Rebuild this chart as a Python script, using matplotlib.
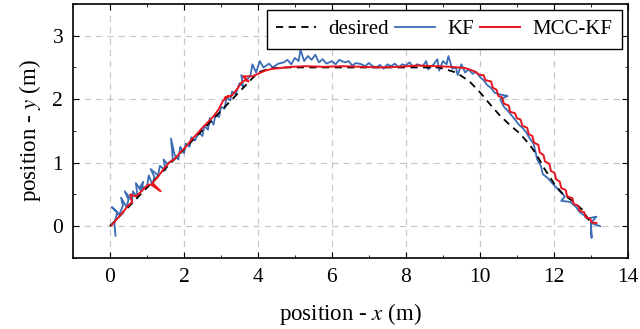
import matplotlib
matplotlib.use("Agg")
import matplotlib.pyplot as plt
from matplotlib.ticker import MultipleLocator

plt.rcParams['font.family'] = ['Liberation Serif', 'DejaVu Serif']
plt.rcParams['mathtext.fontset'] = 'stix'

# desired path
des_x = [0.0, 4.0, 4.3, 4.7, 5.2, 8.9, 9.36, 9.72, 10.0, 10.26, 10.53, 10.8, 11.08,
         11.35, 11.53, 11.75, 12.02, 12.25, 12.5, 12.75, 13.0]
des_y = [0.0, 2.42, 2.48, 2.5, 2.5, 2.5, 2.42, 2.28, 2.11, 1.93, 1.75, 1.6, 1.46,
         1.28, 1.13, 0.9, 0.66, 0.5, 0.4, 0.27, 0.05]

# KF estimate
kf_x = [0.15, 0.12, 0.2, 0.05, 0.25, 0.35, 0.3, 0.45, 0.5, 0.4, 0.6, 0.62, 0.75, 0.7,
        0.85, 0.9, 0.8, 1.0, 1.05, 1.15, 1.2, 1.1, 1.3, 1.35, 1.5, 1.45, 1.55, 1.7,
        1.65, 1.75, 1.85, 1.9, 2.0, 2.05, 2.15, 2.2, 2.3, 2.4, 2.5, 2.55, 2.65, 2.7,
        2.8, 2.85, 2.95, 3.0, 3.1, 3.15, 3.25, 3.3, 3.4, 3.5, 3.6, 3.55, 3.7, 3.8,
        3.85, 3.95, 4.05, 4.15, 4.3, 4.4, 4.55,
        4.7, 4.8, 4.9, 5.0, 5.1, 5.15, 5.25, 5.35, 5.45, 5.55, 5.65, 5.75, 5.85, 6.0,
        6.1, 6.2, 6.35, 6.45, 6.55, 6.65, 6.8, 6.9, 7.0, 7.1, 7.2, 7.3, 7.4, 7.5, 7.6,
        7.7, 7.8, 7.9, 8.0, 8.1, 8.2, 8.3, 8.45, 8.55, 8.6, 8.75, 8.85, 8.9, 9.0, 9.1,
        9.15, 9.25, 9.35, 9.4, 9.5, 9.6, 9.7, 9.8, 9.9, 10.0, 10.1, 10.2, 10.3, 10.4,
        10.5, 10.75, 10.55, 10.65, 10.75, 10.85, 10.95, 11.05, 11.15, 11.25, 11.35,
        11.45, 11.5, 11.55, 11.65, 11.7, 11.85, 11.95, 12.05, 12.16, 12.3, 12.2, 12.45,
        12.6, 12.7, 12.8, 12.9, 13.15, 13.0, 13.02, 13.0, 13.25]
kf_y = [-0.15, 0.05, 0.22, 0.3, 0.18, 0.32, 0.45, 0.3, 0.42, 0.55, 0.4, 0.55, 0.45, 0.68,
        0.55, 0.7, 0.6, 0.62, 0.8, 0.65, 0.78, 0.9, 0.8, 0.95, 0.88, 1.05, 0.98, 1.05,
        1.38, 1.12, 1.05, 1.25, 1.15, 1.3, 1.25, 1.4, 1.35, 1.48, 1.42, 1.58, 1.52, 1.7,
        1.6, 1.75, 1.72, 1.88, 1.85, 2.02, 1.98, 2.12, 2.08, 2.25, 2.2, 2.38, 2.3, 2.38,
        2.55, 2.42, 2.6, 2.5, 2.56, 2.5, 2.56,
        2.58, 2.62, 2.55, 2.65, 2.6, 2.78, 2.6, 2.68, 2.62, 2.7, 2.58, 2.63, 2.56, 2.6,
        2.55, 2.62, 2.58, 2.6, 2.53, 2.57, 2.55, 2.52, 2.57, 2.52, 2.5, 2.54, 2.48, 2.55,
        2.52, 2.56, 2.5, 2.55, 2.53, 2.58, 2.5, 2.55, 2.52, 2.6, 2.47, 2.55, 2.63, 2.45,
        2.6, 2.55, 2.68, 2.48, 2.5, 2.38, 2.55, 2.42, 2.47, 2.4, 2.43, 2.35, 2.3, 2.22,
        2.18, 2.1, 2.08, 2.05, 2.0, 1.88, 1.82, 1.75, 1.68, 1.6, 1.55, 1.48, 1.38, 1.3,
        1.18, 1.05, 0.95, 0.82, 0.75, 0.68, 0.62, 0.55, 0.47, 0.4, 0.38, 0.3, 0.22, 0.18,
        0.12, 0.15, 0.05, -0.18, 0.05, 0.0]

# MCC-KF estimate
mcc_x = [0.05, 0.2, 0.35, 0.5, 0.6, 0.55, 0.7, 0.8, 0.9, 1.0, 1.1, 1.37, 1.15, 1.3, 1.45,
         1.6, 1.75, 1.9, 2.05, 2.2, 2.35, 2.5, 2.65, 2.8, 2.95, 3.05, 3.2, 3.1, 3.3,
         3.45, 3.55, 3.65, 3.75, 3.6, 3.85, 4.0, 4.2, 4.4, 4.6, 4.9, 5.3, 5.8, 6.3,
         6.8, 7.3, 7.8, 8.3, 8.8, 9.2, 9.6, 9.85,
         10.0, 10.1, 10.15, 10.3, 10.35, 10.45, 10.5, 10.6, 10.65, 10.78, 10.82, 10.95,
         11.0, 11.1, 11.15, 11.28, 11.32, 11.42, 11.46, 11.58, 11.62, 11.72, 11.76,
         11.88, 11.92, 12.02, 12.06, 12.16, 12.2, 12.32, 12.36, 12.5, 12.54, 12.66,
         12.7, 12.82, 12.86, 12.98, 13.02, 13.15]
mcc_y = [0.02, 0.12, 0.22, 0.33, 0.38, 0.5, 0.47, 0.52, 0.58, 0.64, 0.66, 0.55, 0.68, 0.78,
         0.9, 1.0, 1.06, 1.16, 1.25, 1.36, 1.45, 1.55, 1.64, 1.73, 1.85, 1.97, 2.05,
         2.02, 2.06, 2.17, 2.26, 2.3, 2.28, 2.36, 2.36, 2.4, 2.45, 2.48, 2.49, 2.51,
         2.52, 2.51, 2.52, 2.51, 2.5, 2.51, 2.53, 2.52, 2.51, 2.49, 2.44,
         2.38, 2.38, 2.3, 2.28, 2.18, 2.15, 2.05, 2.03, 1.93, 1.9, 1.8, 1.78, 1.7, 1.68,
         1.58, 1.55, 1.45, 1.42, 1.32, 1.28, 1.16, 1.12, 1.02, 0.98, 0.87, 0.84, 0.74,
         0.7, 0.6, 0.57, 0.47, 0.44, 0.35, 0.32, 0.24, 0.22, 0.14, 0.12, 0.06, 0.05]

fig = plt.figure(figsize=(6.4, 3.29), dpi=100)
ax = fig.add_axes([0.114, 0.216, 0.867, 0.772])

ax.plot(des_x, des_y, color='black', linestyle=(0, (4, 3)), linewidth=1.3, label='desired', zorder=3)
ax.plot(kf_x, kf_y, color='#3a6db5', linewidth=1.3, label='KF', zorder=2)
ax.plot(mcc_x, mcc_y, color='#e8141e', linewidth=1.4, label='MCC-KF', zorder=4)

ax.set_xlim(-1, 14)
ax.set_ylim(-0.5, 3.5)
ax.xaxis.set_major_locator(MultipleLocator(2))
ax.xaxis.set_minor_locator(MultipleLocator(1))
ax.yaxis.set_major_locator(MultipleLocator(1))
ax.yaxis.set_minor_locator(MultipleLocator(0.5))
ax.grid(True, which='major', color='#c8c8c8', linestyle=(0, (5, 4)), linewidth=0.9)
ax.set_axisbelow(True)
ax.tick_params(which='both', direction='in', top=True, right=True, labelsize=15.5, pad=7)
ax.tick_params(which='major', length=4.5, width=0.8)
ax.tick_params(which='minor', length=2.5, width=0.6)
for s in ax.spines.values():
    s.set_linewidth(1.2)

ax.set_xlabel('position - $x$ (m)', fontsize=16.5, labelpad=10)
ax.set_ylabel('position - $y$ (m)', fontsize=16.5, labelpad=7)

leg = ax.legend(loc='upper right', ncol=3, fontsize=15, frameon=True, fancybox=False,
                edgecolor='black', framealpha=1, handlelength=1.9, handletextpad=0.6,
                columnspacing=0.3, borderpad=0.45, borderaxespad=0.3)
leg.get_frame().set_linewidth(1.0)

fig.savefig('out.png', dpi=100)
